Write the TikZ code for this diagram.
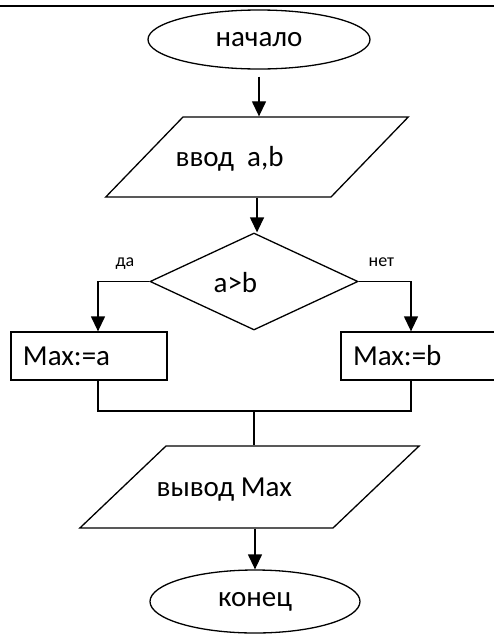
\documentclass[tikz,border=0pt]{standalone}
\usepackage{fontspec}
\setmainfont{Carlito}
\usetikzlibrary{shapes.geometric,arrows.meta}

\begin{document}
\begin{tikzpicture}[x=1pt, y=-1pt, line width=1.3pt]
  \useasboundingbox (0,0) rectangle (494,635);
  \clip (0,0) rectangle (494,635);

  \draw[line width=2.5pt] (0,6) -- (494,6);

  \begin{scope}[every node/.style={draw, inner sep=0pt, font=\fontsize{29}{31}\selectfont}]
      \node[ellipse, minimum width=222, minimum height=59] (start) at (259,39.5) {начало};

      \node[trapezium, trapezium left angle=46, trapezium right angle=134,
            text width=148, text height=40, text depth=40] (in) at (257,157) {};

      \node[diamond, minimum width=208, minimum height=97] (cond) at (254,281.5) {};

      \node[rectangle, minimum height=48, text width=132, inner xsep=12, align=left] (maxa) at (89,356) {Max:=a};
      \node[rectangle, minimum height=48, text width=132, inner xsep=12, align=left] (maxb) at (419,356) {Max:=b};

      \node[trapezium, trapezium left angle=43.6, trapezium right angle=136.4,
            text width=167, text height=41, text depth=41] (out) at (249.5,487) {};

      \node[ellipse, minimum width=210, minimum height=63] (stop) at (255,601.5) {конец};
  \end{scope}

  \begin{scope}[every node/.style={anchor=base west, inner sep=0pt, font=\fontsize{29}{31}\selectfont}]
      \node (inT) at (175,166) {ввод\ \ a,b};
      \node (condT) at (213,292) {a>b};
      \node (outT) at (156,496) {вывод Max};
  \end{scope}

  \node[anchor=base west, inner sep=0pt, font=\fontsize{18}{20}\selectfont] (yes) at (115,266) {да};
  \node[anchor=base west, inner sep=0pt, font=\fontsize{18}{20}\selectfont] (no) at (368,266) {нет};

  \tikzset{flow/.style={->, >={Triangle[width=14pt,length=15pt]}, line width=1.3pt}}

  \draw[flow, shorten <=7pt] (start.south) -- (start.south |- in.north);
  \draw[flow] (in.south) -- (in.south |- cond.north);

  \draw[flow] (cond.west) -| ([xshift=9pt]maxa.north);
  \draw[flow] (cond.east) -| ([xshift=-8pt]maxb.north);

  \coordinate (join) at (254,411);
  \draw ([xshift=9pt]maxa.south) |- (join) -| ([xshift=-8pt]maxb.south);
  \draw (join) -- (join |- out.north);

  \draw[flow] (stop.north |- out.south) -- (stop.north);

\end{tikzpicture}
\end{document}
